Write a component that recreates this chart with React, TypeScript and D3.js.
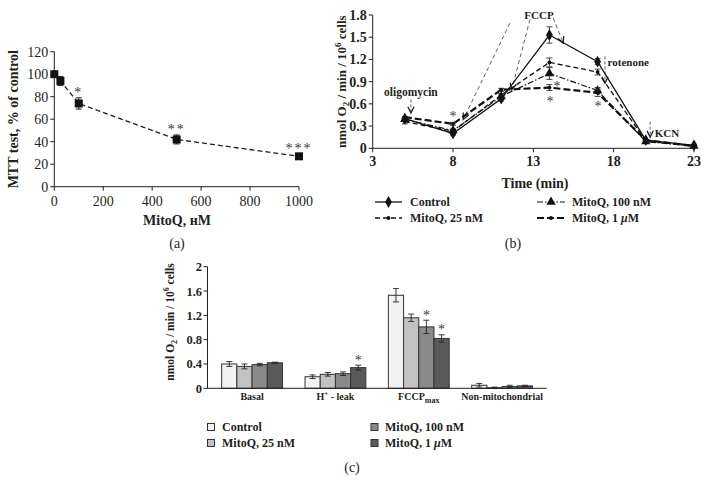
import React from 'react';
import * as d3 from 'd3';

// ---------- Panel (a): MTT test ----------
const MTT_DOSE = [0, 25, 100, 500, 1000];
const MTT_VALUE = [100, 94, 74, 42, 27];
const MTT_ERR = [2, 4, 5, 4, 2];
const MTT_STARS = ['', '', '*', '**', '***'];
const A_X_TICKS = [0, 200, 400, 600, 800, 1000];
const A_Y_TICKS = [0, 20, 40, 60, 80, 100, 120];

// ---------- Panel (b): oxygen consumption over time ----------
const TIMES = [5, 8, 11, 14, 17, 20, 23];
const B_CONTROL = [0.40, 0.20, 0.67, 1.53, 1.17, 0.11, 0.04];
const B_CONTROL_ERR = [0.03, 0.02, 0.03, 0.11, 0.04, 0.01, 0.01];
const B_25 = [0.36, 0.23, 0.72, 1.16, 1.03, 0.10, 0.03];
const B_25_ERR = [0.03, 0.02, 0.02, 0.06, 0.04, 0.01, 0.01];
const B_100 = [0.39, 0.24, 0.70, 1.01, 0.78, 0.09, 0.03];
const B_100_ERR = [0.02, 0.02, 0.02, 0.08, 0.04, 0.01, 0.01];
const B_1UM = [0.42, 0.33, 0.79, 0.82, 0.75, 0.11, 0.03];
const B_1UM_ERR = [0.01, 0.02, 0.02, 0.04, 0.05, 0.01, 0.01];
const B_X_TICKS = [3, 8, 13, 18, 23];
const B_Y_TICKS = [0, 0.3, 0.6, 0.9, 1.2, 1.5, 1.8];
const SERIES_NAMES = ['Control', 'MitoQ, 25 nM', 'MitoQ, 100 nM', 'MitoQ, 1 \u03bcM'];

// ---------- Panel (c): grouped bars ----------
const CATEGORIES = ['Basal', 'Hleak', 'FCCPmax', 'Non-mitochondrial'];
const C_CONTROL = [0.40, 0.19, 1.53, 0.05];
const C_CONTROL_ERR = [0.04, 0.03, 0.11, 0.03];
const C_25 = [0.36, 0.23, 1.16, 0.01];
const C_25_ERR = [0.04, 0.03, 0.06, 0.01];
const C_100 = [0.39, 0.24, 1.01, 0.03];
const C_100_ERR = [0.02, 0.03, 0.11, 0.02];
const C_1UM = [0.42, 0.34, 0.82, 0.04];
const C_1UM_ERR = [0.01, 0.04, 0.06, 0.01];
const C_STARS = [
  ['', '', '', ''],
  ['', '', '', ''],
  ['', '', '*', ''],
  ['', '*', '*', ''],
]; // [series][category]
const C_Y_TICKS = [0, 0.4, 0.8, 1.2, 1.6, 2];
const BAR_COLORS = ['#f2f2f2', '#c2c2c2', '#8a8a8a', '#5a5a5a'];

const INK = '#231f20';
const STAR = '#3a3a3a';
const FONT = '"Liberation Serif", "DejaVu Serif", serif';

function seriesLabel(n: string) {
  if (n.endsWith('\u03bcM')) {
    return (<>{n.slice(0, -2)}<tspan fontStyle="italic">{'\u03bc'}</tspan>M</>);
  }
  return n;
}

function PanelA() {
  const x = d3.scaleLinear().domain([0, 1000]).range([54.3, 299]);
  const y = d3.scaleLinear().domain([0, 120]).range([186.7, 51.7]);
  const pts: [number, number][] = MTT_DOSE.map((d, i) => [x(d), y(MTT_VALUE[i])]);
  const line = d3.line()(pts) || '';
  return (
    <g fontFamily={FONT} fill={INK}>
      <line x1={x(0)} x2={x(0)} y1={y(0)} y2={y(120)} stroke={INK} strokeWidth={1} />
      <line x1={x(0)} x2={x(1000)} y1={y(0)} y2={y(0)} stroke={INK} strokeWidth={1} />
      {A_Y_TICKS.map((t) => (
        <g key={'ay' + t}>
          <line x1={x(0) - 4} x2={x(0)} y1={y(t)} y2={y(t)} stroke={INK} />
          <text x={x(0) - 6} y={y(t) + 5} fontSize={14} textAnchor="end">{t}</text>
        </g>
      ))}
      {A_X_TICKS.map((t) => (
        <g key={'ax' + t}>
          <line x1={x(t)} x2={x(t)} y1={y(0)} y2={y(0) + 4} stroke={INK} />
          <text x={x(t)} y={y(0) + 19} fontSize={14} textAnchor="middle">{t}</text>
        </g>
      ))}
      <path d={line} fill="none" stroke={INK} strokeWidth={1.3} strokeDasharray="5,3" />
      {MTT_DOSE.map((d, i) => (
        <g key={'am' + i}>
          <line x1={x(d)} x2={x(d)} y1={y(MTT_VALUE[i] - MTT_ERR[i])} y2={y(MTT_VALUE[i] + MTT_ERR[i])} stroke={INK} />
          <line x1={x(d) - 3} x2={x(d) + 3} y1={y(MTT_VALUE[i] + MTT_ERR[i])} y2={y(MTT_VALUE[i] + MTT_ERR[i])} stroke={INK} />
          <line x1={x(d) - 3} x2={x(d) + 3} y1={y(MTT_VALUE[i] - MTT_ERR[i])} y2={y(MTT_VALUE[i] - MTT_ERR[i])} stroke={INK} />
          <rect x={x(d) - 4} y={y(MTT_VALUE[i]) - 4} width={8} height={8} fill="#111" />
          {MTT_STARS[i] && (
            <text x={x(d)} y={y(MTT_VALUE[i] + MTT_ERR[i]) - 1} fontSize={14} textAnchor="middle" letterSpacing={2} fill={STAR}>
              {MTT_STARS[i]}
            </text>
          )}
        </g>
      ))}
      <text x={177} y={225} fontSize={14} fontWeight="bold" textAnchor="middle">MitoQ, нM</text>
      <text transform={`translate(18,${(y(0) + y(120)) / 2}) rotate(-90)`} fontSize={14} fontWeight="bold" textAnchor="middle">
        MTT test, % of control
      </text>
      <text x={177} y={248} fontSize={14} textAnchor="middle">(a)</text>
    </g>
  );
}

function arrowHead(tx: number, ty: number, angle: number, len = 7, spread = 0.45) {
  const a1 = angle + Math.PI - spread;
  const a2 = angle + Math.PI + spread;
  return `M${tx + len * Math.cos(a1)},${ty + len * Math.sin(a1)}L${tx},${ty}L${tx + len * Math.cos(a2)},${ty + len * Math.sin(a2)}`;
}

function PanelB() {
  const x = d3.scaleLinear().domain([3, 23]).range([372.7, 694]);
  const y = d3.scaleLinear().domain([0, 1.8]).range([148.3, 15]);
  const series = [
    { vals: B_CONTROL, err: B_CONTROL_ERR, dash: undefined as string | undefined, w: 1.3, sym: d3.symbolDiamond, size: 40 },
    { vals: B_25, err: B_25_ERR, dash: '5,3', w: 1.3, sym: d3.symbolCircle, size: 12 },
    { vals: B_100, err: B_100_ERR, dash: '6,2,1.5,2', w: 1.2, sym: d3.symbolTriangle, size: 38 },
    { vals: B_1UM, err: B_1UM_ERR, dash: '7,3', w: 2.2, sym: d3.symbolCircle, size: 12 },
  ];
  const lineGen = d3.line<number>().x((_, i) => x(TIMES[i])).y((v) => y(v));

  const fccpLines = [
    { from: [11.54, 1.69], to: [8.64, 0.39] },
    { from: [12.79, 1.74], to: [11.65, 0.79] },
    { from: [14.24, 1.76], to: [14.86, 1.42] },
  ];
  const vArrows = [
    { t: 5.38, top: 0.66, tip: 0.475 },
    { t: 17.46, top: 1.24, tip: 0.88 },
    { t: 20.27, top: 0.36, tip: 0.15 },
  ];
  const stars = [
    [8.0, 0.477],
    [14.03, 0.68],
    [14.47, 0.88],
    [17.02, 0.61],
  ];
  const legendPos = [
    { x1: 375, x2: 402, tx: 410, y: 202 },
    { x1: 375, x2: 402, tx: 410, y: 218 },
    { x1: 537, x2: 565, tx: 572, y: 202 },
    { x1: 537, x2: 565, tx: 572, y: 218 },
  ];
  return (
    <g fontFamily={FONT} fill={INK}>
      <line x1={x(3)} x2={x(3)} y1={y(0)} y2={y(1.8)} stroke={INK} />
      <line x1={x(3)} x2={x(23)} y1={y(0)} y2={y(0)} stroke={INK} />
      {B_Y_TICKS.map((t) => (
        <g key={'by' + t}>
          <line x1={x(3) - 4} x2={x(3)} y1={y(t)} y2={y(t)} stroke={INK} />
          <text x={x(3) - 6} y={y(t) + 5} fontSize={14} fontWeight="bold" textAnchor="end">{t === 0 ? '0' : t.toFixed(1)}</text>
        </g>
      ))}
      {B_X_TICKS.map((t) => (
        <g key={'bx' + t}>
          <line x1={x(t)} x2={x(t)} y1={y(0)} y2={y(0) + 4} stroke={INK} />
          <text x={x(t)} y={y(0) + 18} fontSize={14} fontWeight="bold" textAnchor="middle">{t}</text>
        </g>
      ))}
      {fccpLines.map((f, i) => {
        const x1 = x(f.from[0]), y1 = y(f.from[1]), x2 = x(f.to[0]), y2 = y(f.to[1]);
        const ang = Math.atan2(y2 - y1, x2 - x1);
        return (
          <g key={'fl' + i}>
            <line x1={x1} y1={y1} x2={x2} y2={y2} stroke="#333" strokeWidth={0.8} strokeDasharray="4,3" />
            <path d={arrowHead(x2, y2, ang)} fill="none" stroke="#222" strokeWidth={1.3} />
          </g>
        );
      })}
      {vArrows.map((a, i) => (
        <g key={'va' + i}>
          <line x1={x(a.t)} x2={x(a.t)} y1={y(a.top)} y2={y(a.tip)} stroke="#333" strokeWidth={0.8} strokeDasharray="3,2" />
          <path d={arrowHead(x(a.t), y(a.tip), Math.PI / 2)} fill="none" stroke="#222" strokeWidth={1.3} />
        </g>
      ))}
      {series.map((s, si) => (
        <path key={'bl' + si} d={lineGen(s.vals) || ''} fill="none" stroke="#111" strokeWidth={s.w} strokeDasharray={s.dash} />
      ))}
      {series.map((s, si) => (
        <g key={'bm' + si}>
          {s.vals.map((v, i) => (
            <g key={i}>
              {s.err[i] > 0.015 && (
                <g stroke="#333" strokeWidth={0.9}>
                  <line x1={x(TIMES[i])} x2={x(TIMES[i])} y1={y(v - s.err[i])} y2={y(v + s.err[i])} />
                  <line x1={x(TIMES[i]) - 3} x2={x(TIMES[i]) + 3} y1={y(v + s.err[i])} y2={y(v + s.err[i])} />
                  <line x1={x(TIMES[i]) - 3} x2={x(TIMES[i]) + 3} y1={y(v - s.err[i])} y2={y(v - s.err[i])} />
                </g>
              )}
              <path d={d3.symbol(s.sym, s.size)() || ''} transform={`translate(${x(TIMES[i])},${y(v)})`} fill="#111" />
            </g>
          ))}
        </g>
      ))}
      {stars.map((s, i) => (
        <text key={'bs' + i} x={x(s[0])} y={y(s[1]) + 8} fontSize={14} textAnchor="middle" fill={STAR}>*</text>
      ))}
      <text x={x(5.38)} y={y(0.706)} fontSize={11.5} fontWeight="bold" textAnchor="middle">oligomycin</text>
      <text x={x(13.35)} y={y(1.745)} fontSize={11} fontWeight="bold" textAnchor="middle">FCCP</text>
      <text x={x(17.62)} y={y(1.11)} fontSize={11} fontWeight="bold">rotenone</text>
      <text x={x(20.55)} y={y(0.146)} fontSize={11} fontWeight="bold">KCN</text>
      <text x={535} y={188} fontSize={14} fontWeight="bold" textAnchor="middle">Time (min)</text>
      <text transform={`translate(346,${(y(0) + y(1.8)) / 2}) rotate(-90)`} fontSize={13} fontWeight="bold" textAnchor="middle">
        nmol O<tspan fontSize={9} dy={3}>2</tspan><tspan dy={-3}> / min / 10</tspan><tspan fontSize={9} dy={-5}>6</tspan><tspan dy={5}> cells</tspan>
      </text>
      {series.map((s, si) => {
        const L = legendPos[si];
        return (
          <g key={'lg' + si}>
            <line x1={L.x1} x2={L.x2} y1={L.y} y2={L.y} stroke="#111" strokeWidth={s.w} strokeDasharray={s.dash} />
            <path d={d3.symbol(s.sym, s.size)() || ''} transform={`translate(${(L.x1 + L.x2) / 2},${L.y})`} fill="#111" />
            <text x={L.tx} y={L.y + 4} fontSize={12} fontWeight="bold">{seriesLabel(SERIES_NAMES[si])}</text>
          </g>
        );
      })}
      <text x={513} y={248} fontSize={14} textAnchor="middle">(b)</text>
    </g>
  );
}

function PanelC() {
  const y = d3.scaleLinear().domain([0, 2]).range([388.3, 266.7]);
  const x0 = d3.scaleBand().domain(CATEGORIES).range([207.5, 546.7]).paddingInner(0.27).paddingOuter(0.17);
  const seriesIdx = ['0', '1', '2', '3'];
  const x1 = d3.scaleBand().domain(seriesIdx).range([0, x0.bandwidth()]);
  const vals = [C_CONTROL, C_25, C_100, C_1UM];
  const errs = [C_CONTROL_ERR, C_25_ERR, C_100_ERR, C_1UM_ERR];
  const legendPos = [
    { sx: 207.5, tx: 222, y: 427 },
    { sx: 207.5, tx: 222, y: 443 },
    { sx: 371, tx: 385, y: 427 },
    { sx: 371, tx: 385, y: 443 },
  ];
  const label = (c: string) => {
    if (c === 'Hleak') return (<>H<tspan fontSize={7} dy={-4}>+</tspan><tspan dy={4}> - leak</tspan></>);
    if (c === 'FCCPmax') return (<>FCCP<tspan fontSize={8} dy={3}>max</tspan></>);
    return c;
  };
  return (
    <g fontFamily={FONT} fill={INK}>
      {vals.map((sv, si) => (
        <g key={'cs' + si}>
          {CATEGORIES.map((c, ci) => {
            const bx = (x0(c) || 0) + (x1(String(si)) || 0);
            const bw = x1.bandwidth();
            const v = sv[ci];
            const e = errs[si][ci];
            const cx = bx + bw / 2;
            return (
              <g key={c}>
                <rect x={bx} y={y(v)} width={bw} height={y(0) - y(v)} fill={BAR_COLORS[si]} stroke="#333" strokeWidth={1} />
                <g stroke="#222" strokeWidth={0.9}>
                  <line x1={cx} x2={cx} y1={y(v - e)} y2={y(v + e)} />
                  <line x1={cx - 3} x2={cx + 3} y1={y(v + e)} y2={y(v + e)} />
                  <line x1={cx - 3} x2={cx + 3} y1={y(v - e)} y2={y(v - e)} />
                </g>
                {C_STARS[si][ci] && (
                  <text x={cx} y={y(v + e) - 0.5} fontSize={14} textAnchor="middle" fill={STAR}>{C_STARS[si][ci]}</text>
                )}
              </g>
            );
          })}
        </g>
      ))}
      <line x1={207.5} x2={207.5} y1={y(0)} y2={y(2)} stroke={INK} />
      <line x1={207.5} x2={546.7} y1={y(0)} y2={y(0)} stroke={INK} />
      {C_Y_TICKS.map((t) => (
        <g key={'cy' + t}>
          <line x1={203.5} x2={207.5} y1={y(t)} y2={y(t)} stroke={INK} />
          <text x={202} y={y(t) + 4.5} fontSize={12.5} fontWeight="bold" textAnchor="end">{t}</text>
        </g>
      ))}
      {CATEGORIES.map((c) => (
        <text key={'cl' + c} x={(x0(c) || 0) + x0.bandwidth() / 2} y={400} fontSize={10} fontWeight="bold" textAnchor="middle">
          {label(c)}
        </text>
      ))}
      <text transform={`translate(174,322) rotate(-90)`} fontSize={11.5} fontWeight="bold" textAnchor="middle">
        nmol O<tspan fontSize={8} dy={3}>2</tspan><tspan dy={-3}> / min / 10</tspan><tspan fontSize={8} dy={-5}>6</tspan><tspan dy={5}> cells</tspan>
      </text>
      {SERIES_NAMES.map((n, si) => {
        const L = legendPos[si];
        return (
          <g key={'cleg' + si}>
            <rect x={L.sx} y={L.y - 3.5} width={7} height={7} fill={BAR_COLORS[si]} stroke="#333" strokeWidth={1} />
            <text x={L.tx} y={L.y + 4} fontSize={12} fontWeight="bold">{seriesLabel(n)}</text>
          </g>
        );
      })}
      <text x={352} y={472} fontSize={14} textAnchor="middle">(c)</text>
    </g>
  );
}

export default function App() {
  return (
    <svg width={708} height={495} viewBox="0 0 708 495" style={{ position: 'absolute', left: 0, top: 0, background: '#fff' }}>
      <rect x={0} y={0} width={708} height={495} fill="#fff" />
      <PanelA />
      <PanelB />
      <PanelC />
    </svg>
  );
}
